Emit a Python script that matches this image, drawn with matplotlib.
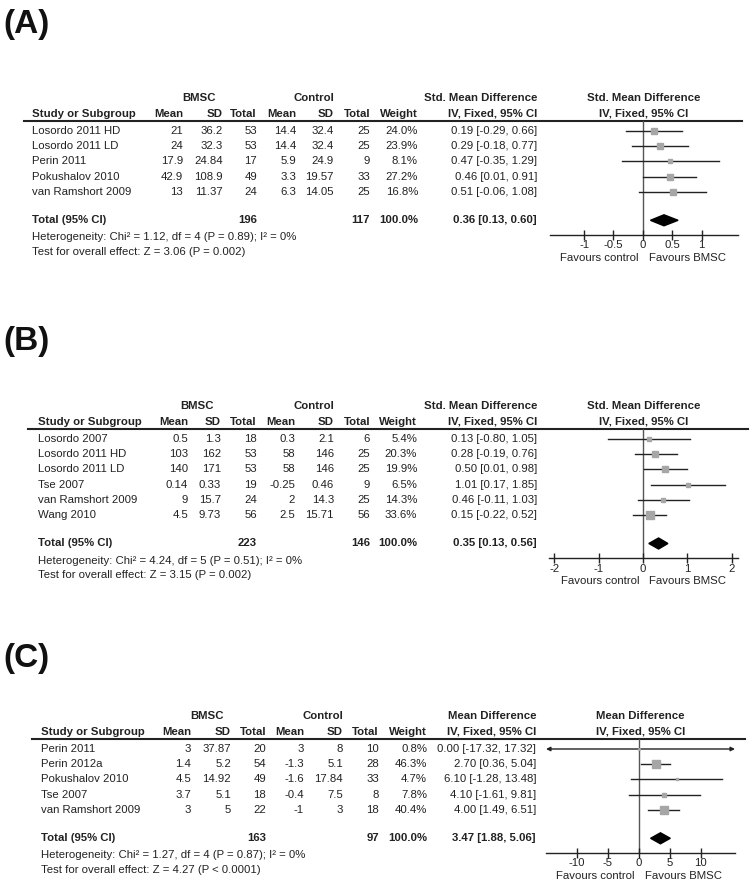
import matplotlib.pyplot as plt
from matplotlib.patches import Polygon

plt.rcParams['font.family'] = ['Liberation Sans', 'DejaVu Sans']

W, H = 752, 884
FS = 8.2
INK = '#222222'
GREY = '#a6a6a6'

# ---- panel A data ----
a_studies = ["Losordo 2011 HD", "Losordo 2011 LD", "Perin 2011", "Pokushalov 2010", "van Ramshort 2009"]
a_bmsc_mean = [21, 24, 17.9, 42.9, 13]
a_bmsc_sd = [36.2, 32.3, 24.84, 108.9, 11.37]
a_bmsc_n = [53, 53, 17, 49, 24]
a_ctrl_mean = [14.4, 14.4, 5.9, 3.3, 6.3]
a_ctrl_sd = [32.4, 32.4, 24.9, 19.57, 14.05]
a_ctrl_n = [25, 25, 9, 33, 25]
a_weight = [24.0, 23.9, 8.1, 27.2, 16.8]
a_est = [0.19, 0.29, 0.47, 0.46, 0.51]
a_lo = [-0.29, -0.18, -0.35, 0.01, -0.06]
a_hi = [0.66, 0.77, 1.29, 0.91, 1.08]
a_total = (196, 117, 0.36, 0.13, 0.60)
a_het = "Heterogeneity: Chi\u00b2 = 1.12, df = 4 (P = 0.89); I\u00b2 = 0%"
a_test = "Test for overall effect: Z = 3.06 (P = 0.002)"

# ---- panel B data ----
b_studies = ["Losordo 2007", "Losordo 2011 HD", "Losordo 2011 LD", "Tse 2007", "van Ramshort 2009", "Wang 2010"]
b_bmsc_mean = [0.5, 103, 140, 0.14, 9, 4.5]
b_bmsc_sd = [1.3, 162, 171, 0.33, 15.7, 9.73]
b_bmsc_n = [18, 53, 53, 19, 24, 56]
b_ctrl_mean = [0.3, 58, 58, -0.25, 2, 2.5]
b_ctrl_sd = [2.1, 146, 146, 0.46, 14.3, 15.71]
b_ctrl_n = [6, 25, 25, 9, 25, 56]
b_weight = [5.4, 20.3, 19.9, 6.5, 14.3, 33.6]
b_est = [0.13, 0.28, 0.50, 1.01, 0.46, 0.15]
b_lo = [-0.80, -0.19, 0.01, 0.17, -0.11, -0.22]
b_hi = [1.05, 0.76, 0.98, 1.85, 1.03, 0.52]
b_total = (223, 146, 0.35, 0.13, 0.56)
b_het = "Heterogeneity: Chi\u00b2 = 4.24, df = 5 (P = 0.51); I\u00b2 = 0%"
b_test = "Test for overall effect: Z = 3.15 (P = 0.002)"

# ---- panel C data ----
c_studies = ["Perin 2011", "Perin 2012a", "Pokushalov 2010", "Tse 2007", "van Ramshort 2009"]
c_bmsc_mean = [3, 1.4, 4.5, 3.7, 3]
c_bmsc_sd = [37.87, 5.2, 14.92, 5.1, 5]
c_bmsc_n = [20, 54, 49, 18, 22]
c_ctrl_mean = [3, -1.3, -1.6, -0.4, -1]
c_ctrl_sd = [8, 5.1, 17.84, 7.5, 3]
c_ctrl_n = [10, 28, 33, 8, 18]
c_weight = [0.8, 46.3, 4.7, 7.8, 40.4]
c_est = [0.00, 2.70, 6.10, 4.10, 4.00]
c_lo = [-17.32, 0.36, -1.28, -1.61, 1.49]
c_hi = [17.32, 5.04, 13.48, 9.81, 6.51]
c_total = (163, 97, 3.47, 1.88, 5.06)
c_het = "Heterogeneity: Chi\u00b2 = 1.27, df = 4 (P = 0.87); I\u00b2 = 0%"
c_test = "Test for overall effect: Z = 4.27 (P < 0.0001)"


fig = plt.figure(figsize=(W / 100, H / 100), dpi=100)
ax = fig.add_axes([0, 0, 1, 1])
ax.set_xlim(0, W)
ax.set_ylim(H, 0)
ax.axis('off')


def fmt(v):
    return f"{v:g}"


def txt(x, y, s, ha='left', bold=False):
    ax.text(x, y, s, ha=ha, va='center', fontsize=FS, color=INK,
            fontweight='bold' if bold else 'normal')


def panel(label, label_y, line_y, cols, fx, xlim, ticks, measure,
          studies, bm, bs, bn, cm, cs, cn, wt, est, lo, hi, tot, het, test):
    ax.text(3, label_y, label, fontsize=24, fontweight='bold', color='#111111',
            ha='left', va='baseline')

    # headers
    top = line_y - 23
    sub = line_y - 7
    txt(cols['sd'] - 24, top, "BMSC", 'center', True)
    txt(cols['csd'] - 20, top, "Control", 'center', True)
    txt(cols['ci'], top, measure, 'right', True)
    txt(cols['ci'], sub, "IV, Fixed, 95% CI", 'right', True)
    txt((fx[0] + fx[1]) / 2, top, measure, 'center', True)
    txt((fx[0] + fx[1]) / 2, sub, "IV, Fixed, 95% CI", 'center', True)
    txt(cols['study'], sub, "Study or Subgroup", 'left', True)
    for key, name in [('mean', 'Mean'), ('sd', 'SD'), ('n', 'Total'),
                      ('cmean', 'Mean'), ('csd', 'SD'), ('cn', 'Total'),
                      ('weight', 'Weight')]:
        txt(cols[key], sub, name, 'right', True)
    ax.plot([cols['line'], cols['right']], [line_y, line_y], color=INK, lw=1.5)

    rows = [line_y + 10 + 15.2 * i for i in range(len(studies))]
    for i, y in enumerate(rows):
        txt(cols['study'], y, studies[i])
        txt(cols['mean'], y, fmt(bm[i]), 'right')
        txt(cols['sd'], y, fmt(bs[i]), 'right')
        txt(cols['n'], y, str(bn[i]), 'right')
        txt(cols['cmean'], y, fmt(cm[i]), 'right')
        txt(cols['csd'], y, fmt(cs[i]), 'right')
        txt(cols['cn'], y, str(cn[i]), 'right')
        txt(cols['weight'], y, f"{wt[i]:.1f}%", 'right')
        txt(cols['ci'], y, f"{est[i]:.2f} [{lo[i]:.2f}, {hi[i]:.2f}]", 'right')

    ty = rows[-1] + 28.5
    txt(cols['study'], ty, "Total (95% CI)", 'left', True)
    txt(cols['n'], ty, str(tot[0]), 'right', True)
    txt(cols['cn'], ty, str(tot[1]), 'right', True)
    txt(cols['weight'], ty, f"{sum(wt):.1f}%", 'right', True)
    txt(cols['ci'], ty, f"{tot[2]:.2f} [{tot[3]:.2f}, {tot[4]:.2f}]", 'right', True)
    txt(cols['study'], ty + 17, het)
    txt(cols['study'], ty + 32, test)

    # forest plot
    axis_y = ty + 14.5
    fax = fig.add_axes([fx[0] / W, 1 - axis_y / H, (fx[1] - fx[0]) / W,
                        (axis_y - line_y) / H])
    fax.patch.set_alpha(0)
    fax.set_xlim(xlim)
    fax.set_ylim(axis_y, line_y)
    fax.axvline(0, color='#555555', lw=1, zorder=1)
    for i, y in enumerate(rows):
        if lo[i] < xlim[0] and hi[i] > xlim[1]:
            fax.annotate('', xy=(xlim[1], y), xytext=(xlim[0], y),
                         arrowprops=dict(arrowstyle='<|-|>', color=INK, lw=1,
                                         mutation_scale=6, shrinkA=0, shrinkB=0))
        else:
            fax.plot([lo[i], hi[i]], [y, y], color=INK, lw=1, zorder=2)
        side = max(1.3 * wt[i] ** 0.5, 1.5)
        fax.plot(est[i], y, 's', ms=side * 0.72, color=GREY, mec=GREY, zorder=3)
    d = 5.5
    fax.add_patch(Polygon([(tot[3], ty), (tot[2], ty - d), (tot[4], ty), (tot[2], ty + d)],
                          closed=True, color='black', zorder=4))
    for s in ['top', 'left', 'right']:
        fax.spines[s].set_visible(False)
    fax.spines['bottom'].set_color(INK)
    fax.spines['bottom'].set_linewidth(1)
    fax.set_yticks([])
    fax.set_xticks(ticks)
    fax.set_xticklabels([fmt(t) for t in ticks])
    fax.tick_params(axis='x', direction='inout', length=7, width=1, pad=0.5,
                    labelsize=FS, colors=INK)
    fax.annotate("Favours control", xy=(0, 0), xycoords=('data', 'axes fraction'),
                 xytext=(-4 * 0.72, -23 * 0.72), textcoords='offset points',
                 ha='right', va='center', fontsize=FS, color=INK)
    fax.annotate("Favours BMSC", xy=(0, 0), xycoords=('data', 'axes fraction'),
                 xytext=(6 * 0.72, -23 * 0.72), textcoords='offset points',
                 ha='left', va='center', fontsize=FS, color=INK)


cols_a = dict(study=32, line=24, mean=183, sd=223, n=257, cmean=296, csd=334,
              cn=370, weight=418, ci=537, right=742)
cols_b = dict(study=38, line=28, mean=188, sd=221, n=257, cmean=295, csd=334,
              cn=370, weight=417, ci=537, right=748)
cols_c = dict(study=41, line=32, mean=191, sd=231, n=266, cmean=304, csd=343,
              cn=379, weight=427, ci=536, right=745)

panel("(A)", 33, 121, cols_a, (550, 738), (-1.58, 1.62), [-1, -0.5, 0, 0.5, 1],
      "Std. Mean Difference", a_studies, a_bmsc_mean, a_bmsc_sd, a_bmsc_n,
      a_ctrl_mean, a_ctrl_sd, a_ctrl_n, a_weight, a_est, a_lo, a_hi,
      a_total, a_het, a_test)
panel("(B)", 350, 429, cols_b, (549, 738), (-2.12, 2.14), [-2, -1, 0, 1, 2],
      "Std. Mean Difference", b_studies, b_bmsc_mean, b_bmsc_sd, b_bmsc_n,
      b_ctrl_mean, b_ctrl_sd, b_ctrl_n, b_weight, b_est, b_lo, b_hi,
      b_total, b_het, b_test)
panel("(C)", 667, 739, cols_c, (546, 735), (-15, 15.5), [-10, -5, 0, 5, 10],
      "Mean Difference", c_studies, c_bmsc_mean, c_bmsc_sd, c_bmsc_n,
      c_ctrl_mean, c_ctrl_sd, c_ctrl_n, c_weight, c_est, c_lo, c_hi,
      c_total, c_het, c_test)

fig.savefig("out.png", dpi=100)
